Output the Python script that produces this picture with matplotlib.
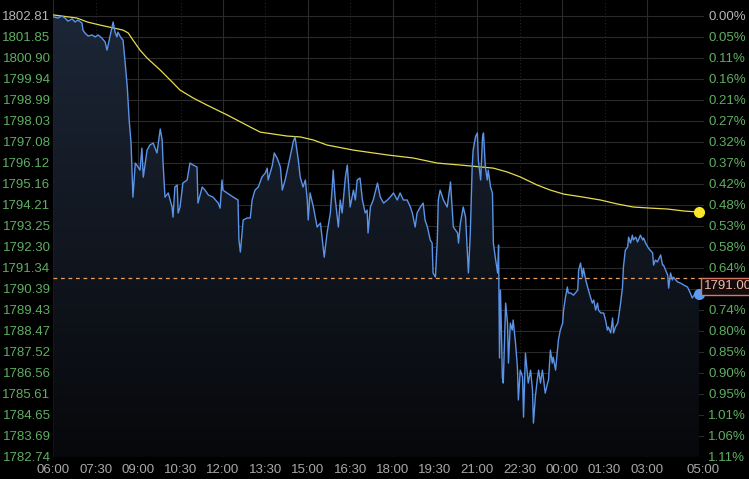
import matplotlib
matplotlib.use('Agg')
import numpy as np
import matplotlib.pyplot as plt
from matplotlib.colors import LinearSegmentedColormap

# minutes after 06:00 and price
price_t = [0, 10, 18, 25, 31, 40, 46, 52, 61, 63, 67, 74, 82, 89, 95, 103, 110, 114, 120, 127,
           131, 135, 137, 144, 148, 152, 157, 161, 165, 169, 174, 180, 184, 188, 191, 199, 205, 212, 220, 227,
           231, 233, 237, 244, 252, 254, 258, 263, 265, 269, 275, 284, 290, 297, 305, 307, 316, 322, 329, 339,
           350, 354, 358, 360, 369, 382, 392, 394, 397, 403, 411, 418, 422, 428, 435, 443, 450, 454, 456, 465,
           469, 475, 482, 486, 492, 498, 507, 509, 513, 520, 524, 530, 535, 539, 541, 545, 552, 560, 567, 571,
           575, 581, 588, 592, 594, 598, 605, 609, 613, 620, 624, 626, 630, 637, 641, 645, 651, 656, 662, 666,
           668, 673, 679, 688, 694, 701, 709, 715, 722, 730, 736, 743, 751, 758, 762, 768, 772, 779, 785, 789,
           794, 800, 804, 806, 811, 815, 817, 821, 828, 836, 843, 849, 858, 860, 864, 870, 875, 881, 885, 889,
           891, 896, 900, 902, 907, 911, 913, 917, 921, 923, 928, 932, 934, 938, 943, 945, 947, 949, 951, 953,
           955, 960, 964, 966, 970, 974, 976, 981, 985, 987, 991, 996, 998, 1002, 1006, 1008, 1013, 1017, 1019, 1023,
           1027, 1030, 1034, 1038, 1040, 1044, 1049, 1051, 1055, 1059, 1061, 1066, 1070, 1072, 1076, 1081, 1083, 1087, 1091, 1093,
           1098, 1104, 1113, 1115, 1119, 1123, 1125, 1130, 1134, 1140, 1144, 1147, 1151, 1155, 1157, 1162, 1168, 1172, 1176, 1178,
           1183, 1187, 1189, 1193, 1198, 1204, 1208, 1210, 1214, 1219, 1221, 1225, 1229, 1231, 1236, 1240, 1246, 1251, 1253, 1257,
           1263, 1272, 1274, 1278, 1282, 1289, 1293, 1295, 1304, 1306, 1310, 1314, 1316, 1325, 1331, 1338, 1346, 1352, 1356, 1363,
           1367, 1371]
price = [1802.75, 1802.70, 1802.79, 1802.70, 1802.56, 1802.66, 1802.52, 1802.61, 1802.47, 1802.15,
         1802.02, 1801.88, 1801.93, 1801.84, 1801.93, 1801.79, 1801.61, 1801.24, 1801.84, 1802.52,
         1802.06, 1801.84, 1802.06, 1801.79, 1801.70, 1800.79, 1799.56, 1798.06, 1797.01, 1794.55,
         1796.10, 1795.92, 1795.78, 1796.78, 1795.46, 1796.69, 1796.92, 1797.01, 1796.56, 1797.65,
         1797.15, 1796.10, 1794.55, 1794.74, 1794.10, 1793.64, 1795.01, 1795.10, 1793.83, 1794.10,
         1795.19, 1795.33, 1796.10, 1796.01, 1795.92, 1794.28, 1795.01, 1794.87, 1794.65, 1794.55,
         1794.28, 1794.05, 1795.33, 1794.87, 1794.74, 1794.55, 1794.42, 1792.60, 1792.05, 1793.51,
         1793.60, 1793.60, 1794.42, 1794.87, 1795.01, 1795.47, 1795.65, 1795.87, 1795.33, 1796.01,
         1796.56, 1796.33, 1795.92, 1794.87, 1795.33, 1795.92, 1796.83, 1797.06, 1797.29, 1796.24,
         1795.47, 1795.01, 1795.33, 1794.42, 1793.51, 1794.74, 1794.10, 1793.19, 1793.37, 1792.60,
         1791.82, 1792.92, 1793.83, 1795.01, 1795.78, 1794.55, 1793.19, 1794.42, 1793.83, 1795.47,
         1796.01, 1795.33, 1794.10, 1794.87, 1794.42, 1795.33, 1795.42, 1794.42, 1793.83, 1793.96,
         1792.92, 1794.10, 1794.42, 1795.19, 1794.55, 1794.28, 1794.42, 1794.55, 1794.74, 1794.42,
         1794.74, 1794.42, 1794.42, 1794.10, 1793.83, 1793.19, 1793.83, 1794.10, 1794.28, 1793.51,
         1793.19, 1792.60, 1792.46, 1791.10, 1790.91, 1792.60, 1794.42, 1794.87, 1794.42, 1794.10,
         1795.24, 1793.19, 1792.92, 1792.46, 1793.37, 1794.10, 1793.64, 1791.10, 1792.92, 1795.92,
         1796.69, 1797.29, 1797.47, 1796.24, 1795.33, 1797.29, 1797.47, 1795.92, 1795.33, 1795.78,
         1795.01, 1794.74, 1792.46, 1791.82, 1791.10, 1792.37, 1787.23, 1790.32, 1788.50, 1786.36,
         1786.09, 1789.73, 1788.82, 1787.00, 1788.82, 1788.50, 1788.96, 1787.91, 1786.82, 1785.32,
         1786.68, 1786.36, 1784.54, 1787.45, 1786.54, 1786.09, 1786.68, 1785.77, 1784.27, 1785.45,
         1786.23, 1786.68, 1786.09, 1786.68, 1786.36, 1785.63, 1786.09, 1786.23, 1787.59, 1787.00,
         1787.27, 1786.68, 1787.59, 1788.05, 1788.50, 1788.82, 1789.41, 1790.00, 1790.46, 1790.19,
         1790.19, 1790.09, 1790.32, 1791.23, 1791.55, 1790.91, 1791.32, 1790.78, 1790.46, 1790.00,
         1789.73, 1789.87, 1789.41, 1789.73, 1789.41, 1789.28, 1789.28, 1788.96, 1788.50, 1788.64,
         1788.37, 1789.05, 1788.37, 1788.64, 1788.82, 1789.73, 1790.46, 1791.37, 1792.14, 1792.28,
         1792.73, 1792.46, 1792.82, 1792.60, 1792.73, 1792.51, 1792.82, 1792.60, 1792.69, 1792.46,
         1792.23, 1792.01, 1791.46, 1791.69, 1791.60, 1791.92, 1791.46, 1791.46, 1791.00, 1790.41,
         1791.10, 1790.78, 1790.91, 1790.69, 1790.64, 1790.55, 1790.46, 1790.19, 1789.96, 1790.19,
         1790.00, 1790.14]

# moving average (yellow)
ma_t = [0, 50, 72, 99, 127, 148, 159, 169, 184, 199, 227, 248, 269, 297, 326, 369, 418, 439, 496, 524,
        552, 581, 637, 709, 764, 815, 864, 934, 964, 991, 1027, 1055, 1083, 1125, 1161, 1197, 1231, 1268,
        1303, 1338, 1371]
ma = [1802.84, 1802.70, 1802.52, 1802.38, 1802.25, 1802.15, 1802.02, 1801.70, 1801.24, 1800.88,
      1800.33, 1799.88, 1799.42, 1799.06, 1798.74, 1798.29, 1797.74, 1797.51, 1797.33, 1797.29,
      1797.15, 1796.92, 1796.69, 1796.47, 1796.33, 1796.10, 1796.01, 1795.87, 1795.69, 1795.47,
      1795.10, 1794.87, 1794.69, 1794.55, 1794.42, 1794.24, 1794.10, 1794.05, 1794.01, 1793.92,
      1793.87]

ref_level = 1790.88
last_label = "1791.00"

y_labels = ["1802.81", "1801.85", "1800.90", "1799.94", "1798.99", "1798.03", "1797.08", "1796.12",
            "1795.16", "1794.21", "1793.25", "1792.30", "1791.34", "1790.39", "1789.43", "1788.47",
            "1787.52", "1786.56", "1785.61", "1784.65", "1783.69", "1782.74"]
pct_labels = ["0.00%", "0.05%", "0.11%", "0.16%", "0.21%", "0.27%", "0.32%", "0.37%", "0.42%", "0.48%",
              "0.53%", "0.58%", "0.64%", "0.69%", "0.74%", "0.80%", "0.85%", "0.90%", "0.95%", "1.01%",
              "1.06%", "1.11%"]
x_ticks = [0, 90, 180, 270, 360, 450, 540, 630, 720, 810, 900, 990, 1080, 1170, 1260, 1380]
x_labels = ["06:00", "07:30", "09:00", "10:30", "12:00", "13:30", "15:00", "16:30", "18:00", "19:30",
            "21:00", "22:30", "00:00", "01:30", "03:00", "05:00"]

y_vals = [float(v) for v in y_labels]
y_lo = y_vals[-1]
y_hi = y_vals[0] + 0.71
x_hi = 1381

plt.rcParams['font.family'] = ['Liberation Sans', 'DejaVu Sans']

fig = plt.figure(figsize=(7.49, 4.79), dpi=100, facecolor='black')
ax = fig.add_axes([53.3 / 749, 22.3 / 479, 650.7 / 749, 456.7 / 479])
ax.set_facecolor('black')

# grid
for v in y_vals:
    ax.axhline(v, color='#2a2a2a', lw=0.8, zorder=0)
for i, t in enumerate(x_ticks[:-1]):
    if i % 2 == 0:
        ax.axvline(t, color='#2a2a2a', lw=0.8, zorder=0)
    else:
        ax.axvline(t, color='#262626', lw=0.8, ls=(0, (1, 2)), zorder=0)

# gradient fill under the price line
poly = ax.fill_between(price_t, price, y_lo, color='none', lw=0)
cmap = LinearSegmentedColormap.from_list('fill', ['#07080b', '#1c2636'])
grad = np.linspace(1, 0, 256).reshape(-1, 1)
im = ax.imshow(grad, extent=[price_t[0], price_t[-1], y_lo, max(price)], aspect='auto',
               cmap=cmap, origin='upper', zorder=1, interpolation='bilinear')
im.set_clip_path(poly.get_paths()[0], transform=ax.transData)

ax.axhline(ref_level, color='#e8a060', lw=0.9, ls=(0, (3, 3)), zorder=2)
ax.plot(ma_t, ma, color='#e6dc50', lw=0.9, zorder=3)
ax.plot(price_t, price, color='#5b93e6', lw=1.0, zorder=4)
ax.plot(ma_t[-1], ma[-1], 'o', color='#f7e62a', ms=7, zorder=5)
ax.plot(price_t[-1], price[-1], 'o', color='#5b9cf0', ms=7, zorder=5)

ax.set_xlim(0, x_hi)
ax.set_ylim(y_lo, y_hi)
for s in ax.spines.values():
    s.set_visible(False)

ax.set_yticks(y_vals)
ax.set_yticklabels(y_labels)
ax.tick_params(axis='y', length=0, pad=2, labelsize=9.5, colors='#5fae62')
ax.get_yticklabels()[0].set_color('#b4b4b4')
ax.set_xticks(x_ticks)
ax.set_xticklabels(x_labels)
ax.tick_params(axis='x', length=0, pad=5, labelsize=9.5, colors='#a8a8a8')

ax2 = ax.twinx()
ax2.set_ylim(y_lo, y_hi)
for s in ax2.spines.values():
    s.set_visible(False)
ax2.set_yticks(y_vals)
ax2.set_yticklabels(pct_labels)
ax2.tick_params(axis='y', length=0, pad=3, labelsize=9.5, colors='#5fae62')
ax2.get_yticklabels()[0].set_color('#b4b4b4')
ax2.get_yticklabels()[13].set_visible(False)

ax2.text(1.0, price[-1] + 0.36, last_label, transform=ax2.get_yaxis_transform(),
         ha='left', va='center', fontsize=9.5, color='#f2b8a8', zorder=10,
         bbox=dict(boxstyle='square,pad=0.2', fc='#140c0c', ec='#d9776a', lw=1.0))

fig.savefig('out.png', dpi=100, facecolor='black')
